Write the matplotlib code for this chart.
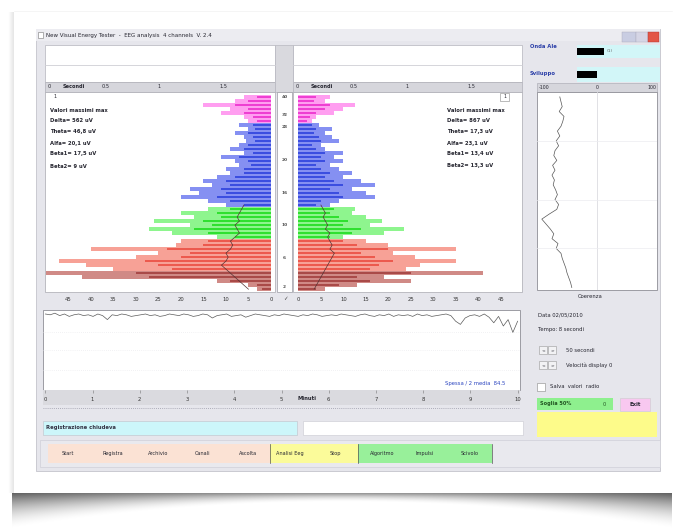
import numpy as np
import matplotlib
matplotlib.use("Agg")
import matplotlib.pyplot as plt
from matplotlib.patches import Rectangle

# ---------------- data ----------------
band_names = ["pink"] * 7 + ["blue"] * 21 + ["green"] * 8 + ["red"] * 8 + ["dred"] * 5

left_outer = [6, 8, 15, 9, 11, 6, 5,
              7, 5, 8, 6, 5.5, 7, 9, 6, 11, 8, 7, 10, 9, 12, 15, 13, 18, 16, 20, 14, 10,
              14, 20, 17, 26, 18, 27, 22, 12,
              20, 21, 40, 25, 30, 47, 41, 35,
              50, 42, 12, 5, 3]
left_inner = [3, 5, 8, 5, 6, 4, 3,
              4, 3.5, 5, 4, 3.5, 5, 6, 4, 7, 5, 4.5, 6, 6, 8, 10, 9, 11, 10, 12, 9, 6,
              9, 12, 11, 15, 13, 17, 14, 8,
              14, 15, 23, 18, 20, 28, 25, 22,
              30, 27, 9, 3, 2]
right_outer = [7, 6, 12.5, 10, 8, 4, 3,
               4.5, 7.5, 6, 7.5, 9, 5, 6, 10, 8, 10, 7, 9, 12, 10, 14, 17, 12, 15, 17, 9, 7,
               12.5, 12, 15, 18.5, 16, 23.5, 19, 10,
               15, 20, 35, 21, 26, 35, 27, 24,
               41, 19, 25, 13, 6]
right_inner = [4, 3.5, 7, 6, 4, 2.5, 2,
               3, 4, 3.5, 4.5, 5, 3, 4, 6, 5, 6, 4, 5, 7, 6, 8, 10, 7, 9, 10, 5, 4,
               8, 7, 9, 11, 10, 14, 12, 7,
               10, 13, 20, 14, 17, 21, 18, 16,
               25, 13, 16, 9, 4]
# mean trace drawn over the lower rows (rows 27..48)
mean_left = [6, 6.5, 7, 7.5, 7, 8, 7.5, 7, 8, 9, 8.5, 9, 10, 9.5, 10, 11, 10, 9, 8, 7, 6, 5]
mean_right = [5, 5.5, 6, 5.5, 6, 6.5, 6, 7, 6.5, 7, 7.5, 7, 8, 7.5, 7, 6.5, 6, 5.5, 5, 4.5, 4, 3.5]

amp_ticks = [0, 5, 10, 15, 20, 25, 30, 35, 40, 45]
center_labels = ["40", "32", "28", "20", "16", "10", "6", "2"]

left_stats = ["Valori massimi max", "Delta= 562 uV", "Theta= 46,8 uV",
              "Alfa= 20,1 uV", "Beta1= 17,5 uV", "Beta2= 9 uV"]
right_stats = ["Valori massimi max", "Delta= 867 uV", "Theta= 17,3 uV",
               "Alfa= 23,1 uV", "Beta1= 13,4 uV", "Beta2= 13,3 uV"]

coherence = [-62, -60, -58, -63, -55, -57, -60, -66, -62, -68, -64, -70, -72, -67,
             -74, -70, -75, -71, -73, -69, -66, -70, -64, -67, -80, -92, -85, -78,
             -72, -75, -65, -68, -60, -58, -55, -52, -50, -47, -44, -42]

ts = [95, 94, 96, 93, 95, 92, 94, 95, 93, 94,
      92, 95, 93, 88, 94, 93, 95, 94, 92, 93,
      94, 95, 93, 94, 92, 93, 95, 94, 93, 95,
      94, 92, 93, 95, 94, 90, 93, 94, 95, 92,
      93, 94, 91, 93, 95, 94, 93, 92, 94, 93,
      95, 94, 93, 92, 94, 93, 95, 94, 92, 93,
      94, 93, 95, 94, 93, 92, 94, 95, 93, 92,
      94, 93, 95, 92, 94, 93, 94, 92, 95, 93,
      94, 92, 93, 94, 95, 93, 86, 82, 90, 93,
      94, 92, 95, 91, 84, 92, 80, 88, 72, 86]
minute_ticks = list(range(11))

buttons = ["Start", "Registra", "Archivio", "Canali", "Ascolta",
           "Analisi Eeg", "Stop", "Algoritmo", "Impulsi", "Scivolo"]

colors_light = {"pink": "#ff9ef0", "blue": "#8590f2", "green": "#8ef58e",
                "red": "#f7a196", "dred": "#d08a86"}
colors_dark = {"pink": "#ee3fd2", "blue": "#3b4ee0", "green": "#30e030",
               "red": "#ec5a4e", "dred": "#a94a48"}

# ---------------- figure ----------------
W, H = 675, 530
fig = plt.figure(figsize=(W / 100, H / 100), dpi=100)
fig.patch.set_facecolor("white")
bg = fig.add_axes([0, 0, 1, 1])
bg.set_xlim(0, W)
bg.set_ylim(H, 0)
bg.axis("off")

TXT = "#262630"


def rect(x0, y0, x1, y1, fc, ec="none", lw=0.5, z=1):
    bg.add_patch(Rectangle((x0, y0), x1 - x0, y1 - y0, fc=fc, ec=ec, lw=lw, zorder=z))


def txt(x, y, s, size=3.8, color=TXT, ha="left", weight="normal", z=5):
    bg.text(x, y, s, fontsize=size, color=color, ha=ha, va="center",
            weight=weight, zorder=z)


def px_axes(x0, y0, x1, y1):
    a = fig.add_axes([x0 / W, 1 - y1 / H, (x1 - x0) / W, (y1 - y0) / H])
    a.patch.set_alpha(0)
    return a


# photo frame: faint left edge shadow
edge = np.zeros((2, 8, 4))
edge[..., 3] = np.linspace(0.0, 0.10, 8)[None, :] ** 1.0
bg.imshow(edge, extent=[8, 14, 493, 12], aspect="auto", zorder=0.4,
          interpolation="bilinear")
bg.plot([14, 672], [11, 11], color="#f2f2f2", lw=0.5, zorder=0.4)

# curled drop shadow under the photo
sh_w, sh_h = 420, 60
u = np.linspace(-1, 1, sh_w)[None, :]
d = np.linspace(0, 40, sh_h)[:, None]
thick = 9 + 28 * u ** 2
alpha = np.clip(1 - d / thick, 0, 1) ** 1.8 * (0.42 + 0.2 * u ** 2)
img = np.zeros((sh_h, sh_w, 4))
img[..., 3] = alpha
bg.imshow(img, extent=[12, 672, 533, 493], aspect="auto", zorder=0.5,
          interpolation="bilinear")

# window
rect(36, 29, 660, 471, "#e6e6ec", ec="#c4c4cc", lw=0.6)
rect(36, 29, 660, 41, "#ececf1")
rect(38, 32, 43, 38, "white", ec="#777", lw=0.4, z=2)
txt(46, 35, "New Visual Energy Tester  -  EEG analysis  4 channels  V. 2.4", size=4)
rect(622, 32, 636, 42, "#c9cde2", ec="#aab", lw=0.3, z=2)
rect(636, 32, 648, 42, "#d5d5e5", ec="#aab", lw=0.3, z=2)
rect(648, 32, 659, 42, "#e35545", ec="#a33", lw=0.3, z=2)

# top white boxes
for x0, x1 in [(45, 275), (293, 522)]:
    rect(x0, 45, x1, 82, "white", ec="#b4b4bc", lw=0.5)
    bg.plot([x0, x1], [65, 65], color="#cfcfd4", lw=0.6, zorder=2)
    rect(x0, 82, x1, 92, "#d6d6dc", ec="#b0b0b8", lw=0.5)
rect(275, 45, 293, 92, "#d9d9de", ec="#b8b8c0", lw=0.5)
for x0 in (45, 293):
    txt(x0 + 3, 87, "0", size=3.6)
    txt(x0 + 18, 87, "Secondi", size=3.6, weight="bold")
    txt(x0 + 57, 87, "0.5", size=3.6)
    txt(x0 + 113, 87, "1", size=3.6)
    txt(x0 + 175, 87, "1.5", size=3.6)

# chart backgrounds
rect(45, 92, 275, 292, "white", ec="#a8a8b0", lw=0.5)
rect(293, 92, 522, 292, "white", ec="#a8a8b0", lw=0.5)
rect(277, 92, 292, 292, "white", ec="#9a9aa2", lw=0.5)
for yy, s in zip([97, 115, 127, 160, 193, 225, 258, 287], center_labels):
    txt(284.5, yy, s, size=3.2, ha="center", weight="bold", color="#555")
txt(285, 299, "\u2713", size=4, ha="center", color="#444")

# stats text
txt(53, 96, "1", size=3.6)
rect(500, 93, 509, 101, "white", ec="#888", lw=0.4, z=2)
txt(504.5, 97, "1", size=3.4, ha="center")
for yy, a, b in zip([110, 120, 131, 143, 154, 166], left_stats, right_stats):
    txt(50, yy, a, size=3.8, weight="bold")
    txt(447, yy, b, size=3.8, weight="bold")

# ---------------- butterfly bars ----------------
rows = np.arange(len(band_names))
lc = [colors_light[b] for b in band_names]
dc = [colors_dark[b] for b in band_names]

axL = px_axes(45, 92, 275, 292)
axL.barh(rows, left_outer, height=1.0, color=lc, edgecolor="none")
axL.barh(rows, left_inner, height=0.55, color=dc, edgecolor="none")
axL.plot(mean_left, rows[27:], color="#553333", lw=0.5)
axL.set_xlim(50.2, -0.9)

axR = px_axes(293, 92, 522, 292)
axR.barh(rows, right_outer, height=1.0, color=lc, edgecolor="none")
axR.barh(rows, right_inner, height=0.55, color=dc, edgecolor="none")
axR.plot(mean_right, rows[27:], color="#553333", lw=0.5)
axR.set_xlim(-1.2, 49.7)

for a in (axL, axR):
    a.set_ylim(len(band_names) - 0.3, -1.2)
    a.set_yticks([])
    a.set_xticks(amp_ticks)
    a.set_xticklabels([str(t) for t in amp_ticks])
    a.tick_params(axis="x", length=0, pad=3.5, labelsize=3.8, labelcolor="#333")
    for s in a.spines.values():
        s.set_visible(False)

# ---------------- right panel ----------------
txt(530, 47, "Onda Ale", size=3.8, color="#2b3fa8", weight="bold")
rect(577, 45, 660, 58, "#d2f6f8")
rect(577, 48, 604, 55, "black", z=2)
txt(607, 51.5, "(1)", size=3.2, color="#666")
txt(530, 73, "Sviluppo", size=3.8, color="#2b3fa8", weight="bold")
rect(577, 67, 660, 82, "#d2f6f8")
rect(577, 71, 597, 78, "black", z=2)

rect(537, 83, 657, 92, "#d6d6dc", ec="#b0b0b8", lw=0.5)
txt(539, 87.5, "-100", size=3.4)
txt(597, 87.5, "0", size=3.4, ha="center")
txt(656, 87.5, "100", size=3.4, ha="right")
rect(537, 92, 657, 290, "white", ec="#8e8e96", lw=0.6)
axC = px_axes(537, 92, 657, 290)
cy = np.arange(len(coherence))
axC.plot(coherence, cy, color="#555", lw=0.5)
axC.axvline(0, color="#dcdce0", lw=0.6)
for g in [9, 21, 31]:
    axC.axhline(g, color="#ececf0", lw=0.5)
axC.set_xlim(-100, 100)
axC.set_ylim(len(coherence) - 0.5, -1)
axC.axis("off")
txt(590, 297, "Coerenza", size=3.8, ha="center")

txt(538, 315, "Data 02/05/2010", size=3.8)
txt(538, 330, "Tempo: 8 secondi", size=3.8)
for yy, s in [(350, "50 secondi"), (365, "Velocit\u00e0 display 0")]:
    rect(539, yy - 4, 547, yy + 4, "#f2f2f4", ec="#999", lw=0.4)
    rect(548, yy - 4, 556, yy + 4, "#f2f2f4", ec="#999", lw=0.4)
    txt(543, yy, "<", size=3.2, ha="center")
    txt(552, yy, ">", size=3.2, ha="center")
    txt(566, yy, s, size=3.8)
rect(537, 383, 545, 391, "white", ec="#888", lw=0.4)
txt(550, 387, "Salva  valori  radio", size=3.8)
rect(537, 398, 613, 410, "#8ef08e")
txt(540, 404, "Soglia 50%", size=3.6, weight="bold", color="#225522")
txt(603, 404, "0", size=3.6, color="#225522")
rect(620, 398, 650, 411, "#f8c8f0", ec="#ccc", lw=0.4)
txt(635, 404.5, "Exit", size=3.8, ha="center", weight="bold")
rect(537, 412, 657, 437, "#fdfb8a")

# ---------------- time series ----------------
rect(43, 310, 520, 390, "white", ec="#8e8e96", lw=0.6)
axT = px_axes(43, 310, 520, 390)
tx = np.linspace(0, 10, len(ts))
for g in [72, 50, 25]:
    axT.axhline(g, color="#e6e6ea", lw=0.5, ls=(0, (1, 2)))
axT.plot(tx, ts, color="#5a5a5a", lw=0.5)
axT.set_xlim(-0.05, 10.05)
axT.set_ylim(0, 100)
axT.set_yticks([])
axT.set_xticks(minute_ticks)
axT.set_xticklabels([str(m) for m in minute_ticks])
axT.tick_params(axis="x", length=2, width=0.4, color="#777", pad=3,
                labelsize=3.8, labelcolor="#333")
for s in axT.spines.values():
    s.set_visible(False)
rect(43, 390, 520, 405, "#dadadf")
txt(298, 398.5, "Minuti", size=3.8, weight="bold")
txt(505, 384, "Spessa / 2 media  84.5", size=3.8, color="#2b45c0", ha="right")
bg.plot([43, 520], [408, 408], color="#9a9aa8", lw=0.6, ls=(0, (1, 1.5)), zorder=2)

rect(43, 421, 297, 435, "#ccf6fa", ec="#c0c0c8", lw=0.4)
txt(46, 427, "Registrazione chiudeva", size=3.8, weight="bold", color="#334")
rect(303, 421, 523, 435, "white", ec="#c8c8d0", lw=0.4)

# buttons
rect(40, 440, 660, 467, "#e9e9ee", ec="#d0d0d8", lw=0.5)
rect(48, 444, 270, 463, "#fbe2d4")
rect(270, 444, 358, 463, "#fbfb9a")
rect(358, 444, 492, 463, "#98f09a")
for xx in [270, 358, 492]:
    bg.plot([xx, xx], [444, 463], color="#555", lw=0.5, zorder=2)
bx = [68, 113, 158, 203, 248, 290, 335, 382, 425, 470]
for xx, s in zip(bx, buttons):
    txt(xx, 453.5, s, size=3.6, ha="center")

fig.savefig("out.png", dpi=100, facecolor="white")
